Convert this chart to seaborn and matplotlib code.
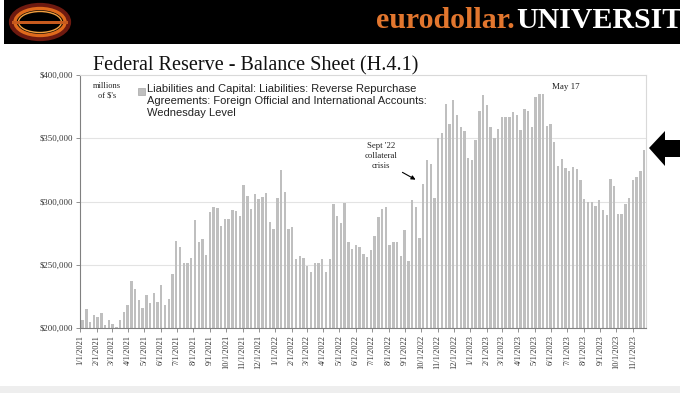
import numpy as np
import pandas as pd
import matplotlib
matplotlib.use("Agg")
import matplotlib.pyplot as plt
import matplotlib.dates as mdates
from matplotlib.patches import Rectangle, Ellipse, Polygon
import seaborn as sns

# weekly Wednesday levels, millions of $
vals_2021 = [206600, 215000, 205000, 210000, 209000, 212000, 202000, 206000, 203000, 201000,
             206000, 213000, 218000, 237000, 231000, 222000, 216000, 226000, 220000, 228000,
             220500, 234000, 218000, 223000, 242600, 269000, 264000, 251000, 251000, 255000,
             285000, 268000, 270000, 258000, 292000, 295500, 295000, 281000, 286500, 286500,
             293000, 292500, 288400, 313000, 304700, 294400, 306000, 301800, 303400, 307000,
             283600, 278400]
vals_2022 = [303000, 325000, 307300, 278400, 279700, 254700, 257300, 255000, 249400, 244000,
             251300, 251500, 254700, 244400, 254700, 297800, 288900, 283000, 298900, 268000,
             262300, 265500, 264000, 258600, 256500, 261300, 272600, 287600, 294000, 295500,
             266000, 268000, 268000, 257300, 277300, 252900, 301000, 295500, 271300, 313900,
             333000, 329700, 302600, 350400, 354000, 376700, 361000, 380400, 368000, 358600,
             355400, 334000]
vals_2023 = [332600, 349000, 371500, 383800, 376000, 359000, 350400, 357500, 366500, 367000,
             367000, 370400, 368000, 356500, 372800, 371500, 359000, 382800, 385000, 385000,
             360000, 361000, 346800, 328000, 333300, 326500, 324000, 327600, 326000, 317000,
             302000, 300000, 300000, 296500, 301500, 293600, 289700, 317800, 312300, 290000,
             290200, 298000, 302600, 317000, 319700, 323900, 340400]
values = vals_2021 + vals_2022 + vals_2023
dates = pd.date_range("2021-01-06", periods=len(values), freq="7D")
month_ticks = pd.date_range("2021-01-01", "2023-11-01", freq="MS")
y_ticks = [200000, 250000, 300000, 350000, 400000]

series_label = ("Liabilities and Capital: Liabilities: Reverse Repurchase\n"
                "Agreements: Foreign Official and International Accounts:\n"
                "Wednesday Level")

sns.set_style("white")
plt.rcParams["font.family"] = ["Liberation Serif", "DejaVu Serif"]

W, H = 680, 393
fig = plt.figure(figsize=(6.8, 3.93), dpi=100)
fig.patch.set_facecolor("white")


def fx(px):
    return px / W


def fy(py):
    return 1 - py / H


# header band
fig.patches.append(Rectangle((fx(4), fy(44)), fx(676), 44 / H, transform=fig.transFigure,
                             facecolor="black", edgecolor="none", zorder=0))
# logo ring
for w, h, c, lw in [(56, 32, "#6e1a10", 4.5), (50, 27, "#e06a1c", 2.4), (43, 21, "#f3a040", 1.0)]:
    fig.patches.append(Ellipse((fx(40), fy(22)), fx(w), h / H, transform=fig.transFigure,
                               facecolor="none", edgecolor=c, linewidth=lw, zorder=1))
fig.patches.append(Rectangle((fx(12), fy(23.5)), fx(56), 2.5 / H, transform=fig.transFigure,
                             facecolor="#c65a1e", edgecolor="none", zorder=2))
fig.text(fx(515), fy(21), "eurodollar.", color="#e2762e", fontsize=21.5, fontweight="bold",
         ha="right", va="center")
fig.text(fx(516), fy(21), "UNIVERSITY", color="white", fontsize=21.5, fontweight="bold",
         ha="left", va="center")

# bottom grey strip
fig.patches.append(Rectangle((0, 0), 1, 7 / H, transform=fig.transFigure,
                             facecolor="#eeeeee", edgecolor="none", zorder=0))

fig.text(fx(93), fy(66), "Federal Reserve - Balance Sheet (H.4.1)", fontsize=14.5,
         ha="left", va="center", color="#111111")

ax = fig.add_axes([fx(80), fy(328), fx(646 - 80), (328 - 75) / H])
df = pd.DataFrame({"date": mdates.date2num(dates), "value": values})
sns.barplot(data=df, x="date", y="value", native_scale=True, orient="x", width=0.64,
            color="#bfbfbf", saturation=1, errorbar=None, ax=ax, zorder=2,
            edgecolor="none", linewidth=0)

ax.set_xlim(mdates.date2num(pd.Timestamp("2021-01-02 12:00")),
            mdates.date2num(pd.Timestamp("2023-11-25 12:00")))
ax.set_ylim(200000, 400000)
ax.set_yticks(y_ticks)
ax.set_yticklabels([f"${v:,.0f}" for v in y_ticks], fontsize=6.3, color="#333333")
ax.set_xticks(mdates.date2num(month_ticks))
ax.set_xticklabels([f"{d.month}/1/{d.year}" for d in month_ticks], rotation=90,
                   fontsize=6, color="#333333")
ax.set_xlabel("")
ax.set_ylabel("")
ax.tick_params(axis="both", direction="out", length=3, width=0.6, color="#808080", pad=2)
ax.tick_params(axis="x", bottom=True)
ax.tick_params(axis="y", left=True)
for yv in y_ticks[1:-1]:
    ax.axhline(yv, color="#e3e3e3", lw=0.8, zorder=1)
for s in ["left", "bottom"]:
    ax.spines[s].set_color("#808080")
    ax.spines[s].set_linewidth(0.8)
for s in ["top", "right"]:
    ax.spines[s].set_color("#d9d9d9")
    ax.spines[s].set_linewidth(0.8)

# legend-like label
fig.patches.append(Rectangle((fx(138), fy(95)), fx(7), 7 / H, transform=fig.transFigure,
                             facecolor="#bfbfbf", edgecolor="#a6a6a6", lw=0.5, zorder=3))
fig.text(fx(147), fy(84), series_label, fontsize=8, family=["Liberation Sans", "DejaVu Sans"],
         ha="left", va="top", linespacing=1.25, color="#222222")

fig.text(fx(107), fy(91), "millions\nof $'s", fontsize=6, ha="center", va="center",
         linespacing=1.2, color="#222222")
fig.text(fx(381), fy(156), "Sept '22\ncollateral\ncrisis", fontsize=6.3, ha="center",
         va="center", linespacing=1.35, color="#222222")
ax.annotate("", xy=(fx(418), fy(181)), xycoords="figure fraction",
            xytext=(fx(400), fy(171)), textcoords="figure fraction",
            arrowprops=dict(arrowstyle="-|>", color="black", lw=0.8, mutation_scale=6))
fig.text(fx(566), fy(87), "May 17", fontsize=6.5, ha="center", va="center", color="#222222")

# big arrow on the right
pts = [(649, 148), (665, 131), (665, 140), (680, 140), (680, 157), (665, 157), (665, 166)]
fig.patches.append(Polygon([(fx(x), fy(y)) for x, y in pts], closed=True,
                           transform=fig.transFigure, facecolor="black", edgecolor="none"))

fig.savefig("out.png", dpi=100)
